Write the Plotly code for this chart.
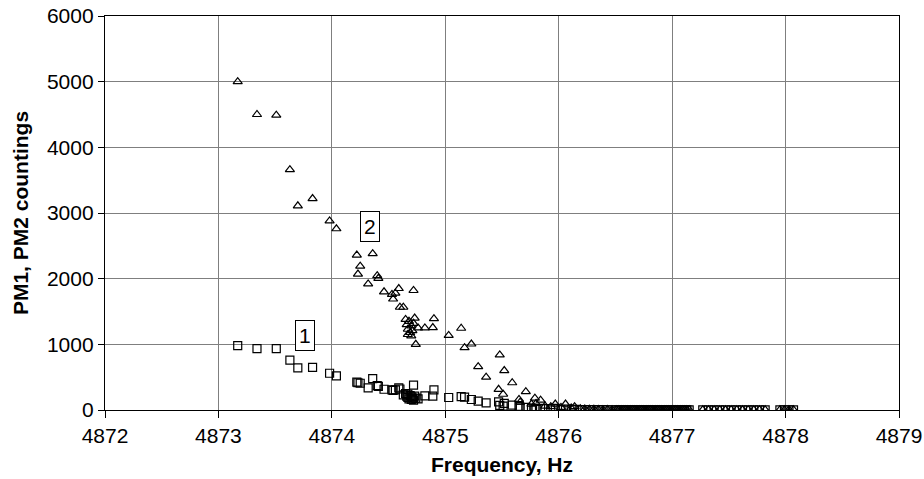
import plotly.graph_objects as go

# Frequency sweep (Hz) with the two photomultiplier countings
freq = [
    4873.17, 4873.34, 4873.51, 4873.63, 4873.70, 4873.83, 4873.98, 4874.04,
    4874.22, 4874.23, 4874.25, 4874.32, 4874.36, 4874.40, 4874.41, 4874.46,
    4874.53, 4874.54, 4874.56, 4874.59, 4874.60, 4874.63, 4874.65, 4874.66,
    4874.67, 4874.67, 4874.68, 4874.69, 4874.70, 4874.70, 4874.71, 4874.72,
    4874.72, 4874.73, 4874.74, 4874.76, 4874.82, 4874.89, 4874.90, 4875.03,
    4875.14, 4875.17, 4875.23, 4875.29, 4875.36, 4875.47, 4875.48, 4875.51,
    4875.52, 4875.59, 4875.65, 4875.66, 4875.71, 4875.76, 4875.79, 4875.80,
    4875.84, 4875.88, 4875.93, 4875.97, 4876.02, 4876.06, 4876.11, 4876.14,
    4876.19, 4876.23, 4876.27, 4876.31, 4876.35, 4876.39, 4876.43, 4876.47,
    4876.51, 4876.53, 4876.55, 4876.57, 4876.59, 4876.61, 4876.63, 4876.65,
    4876.67, 4876.69, 4876.71, 4876.73, 4876.75, 4876.77, 4876.79, 4876.81,
    4876.83, 4876.85, 4876.87, 4876.89, 4876.91, 4876.93, 4876.95, 4876.97,
    4876.99, 4877.01, 4877.03, 4877.05, 4877.07, 4877.09, 4877.11, 4877.13,
    4877.15, 4877.27, 4877.32, 4877.37, 4877.42, 4877.47, 4877.52, 4877.57,
    4877.62, 4877.67, 4877.72, 4877.77, 4877.82, 4877.95, 4877.99, 4878.03,
    4878.07,
]

pm1 = [
    980, 935, 935, 760, 640, 650, 560, 520,
    423, 415, 407, 336, 478, 371, 360, 316,
    305, 300, 305, 336, 320, 230, 250, 210,
    190, 240, 170, 220, 160, 200, 180, 380,
    150, 210, 180, 170, 215, 210, 305, 190,
    205, 195, 160, 135, 110, 125, 70, 60,
    100, 75, 55, 30, 40, 30, 25, 20,
    25, 20, 20, 25, 10, 15, 10, 10,
    5, 5, 5, 5, 3, 5, 3, 2,
    3, 2, 4, 2, 3, 1, 2, 3,
    2, 1, 2, 3, 1, 2, 2, 1,
    2, 3, 1, 2, 1, 2, 2, 1,
    2, 1, 2, 1, 2, 1, 1, 2,
    1, 2, 1, 2, 1, 2, 1, 1,
    2, 1, 1, 2, 1, 2, 1, 2,
    1,
]

pm2 = [
    5000, 4500, 4490, 3660, 3110, 3220, 2880, 2760,
    2360, 2070, 2190, 1920, 2380, 2045, 2005, 1800,
    1760, 1690, 1780, 1850, 1565, 1565, 1380, 1300,
    1150, 1230, 1350, 1180, 1280, 1130, 1210, 1820,
    1320, 1400, 1000, 1250, 1250, 1255, 1390, 1135,
    1245, 950, 1005, 660, 500, 315, 838, 240,
    600, 415, 160, 120, 280, 90, 180, 100,
    150, 60, 50, 90, 40, 90, 30, 50,
    20, 15, 10, 10, 8, 5, 8, 5,
    6, 4, 5, 3, 5, 4, 3, 5,
    4, 3, 4, 5, 3, 4, 3, 4,
    5, 3, 4, 3, 4, 5, 3, 4,
    3, 4, 3, 5, 4, 3, 4, 3,
    4, 3, 4, 3, 4, 3, 5, 4,
    3, 4, 3, 4, 3, 4, 3, 4,
    3,
]

x_ticks = [4872, 4873, 4874, 4875, 4876, 4877, 4878, 4879]
y_ticks = [0, 1000, 2000, 3000, 4000, 5000, 6000]

labels = ["1", "2"]
label_x = [4873.76, 4874.34]
label_y = [1135, 2790]

FONT = "Liberation Sans, Arial, sans-serif"

fig = go.Figure()
fig.add_trace(go.Scatter(
    x=freq, y=pm1, mode="markers", name="PM1",
    marker=dict(symbol="square-open", size=8, color="black",
                line=dict(width=1.2, color="black")),
))
fig.add_trace(go.Scatter(
    x=freq, y=pm2, mode="markers", name="PM2",
    marker=dict(symbol="triangle-up-open", size=8, color="black",
                line=dict(width=1.2, color="black")),
))

for t, lx, ly in zip(labels, label_x, label_y):
    fig.add_annotation(
        x=lx, y=ly, text=t, showarrow=False,
        font=dict(family=FONT, size=21, color="black"),
        bgcolor="white", bordercolor="black", borderwidth=1, borderpad=3,
    )

fig.update_layout(
    width=924, height=479,
    margin=dict(l=105, r=25, t=16, b=69),
    paper_bgcolor="white", plot_bgcolor="white",
    showlegend=False,
    font=dict(family=FONT, size=21, color="black"),
)
fig.update_xaxes(
    range=[4872, 4879], tickvals=x_ticks, ticktext=[str(v) for v in x_ticks],
    showgrid=True, gridcolor="#7f7f7f", gridwidth=1,
    showline=True, linecolor="black", linewidth=1.3, mirror=True,
    ticks="outside", ticklen=7, tickcolor="black",
    zeroline=False,
    title=dict(text="<b>Frequency, Hz</b>", font=dict(family=FONT, size=21), standoff=10),
    automargin=False,
)
fig.update_yaxes(
    range=[0, 6000], tickvals=y_ticks, ticktext=[str(v) for v in y_ticks],
    showgrid=True, gridcolor="#7f7f7f", gridwidth=1,
    showline=True, linecolor="black", linewidth=1.3, mirror=True,
    ticks="outside", ticklen=6, tickcolor="black",
    zeroline=False,
    title=dict(text="<b>PM1, PM2 countings</b>", font=dict(family=FONT, size=21), standoff=12),
    automargin=False,
)

fig.write_html("out.html", config={"displayModeBar": False},
               post_script="document.body.style.margin='0';")
